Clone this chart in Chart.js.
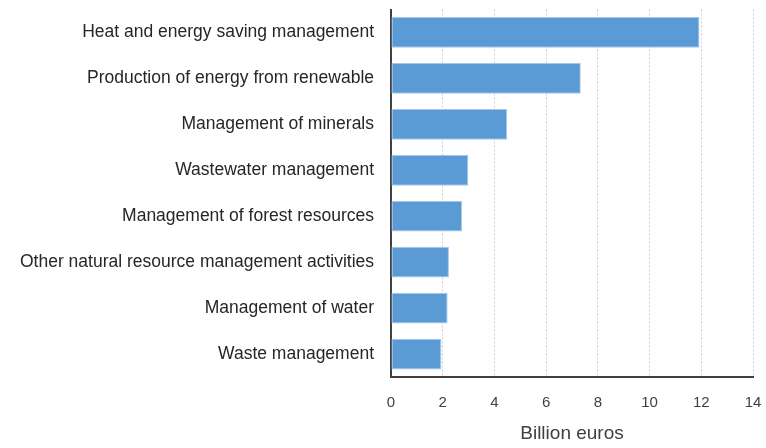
<!DOCTYPE html>
<html>
<head>
<meta charset="utf-8">
<script src="https://cdn.jsdelivr.net/npm/chart.js@4"></script>
<style>
  html, body { margin: 0; padding: 0; background: #fff; }
  #wrap { width: 766px; height: 448px; }
</style>
</head>
<body>
<div id="wrap"><canvas id="envChart" width="766" height="448"></canvas></div>
<script>
// 범주와 값 (그림에서 읽은 값, 단위: 십억 유로)
const categories = [
    'Heat and energy saving management',
    'Production of energy from renewable',
    'Management of minerals',
    'Wastewater management',
    'Management of forest resources',
    'Other natural resource management activities',
    'Management of water',
    'Waste management'
];
const values = [11.93, 7.34, 4.49, 2.99, 2.75, 2.24, 2.19, 1.95];
const xTicks = [0, 2, 4, 6, 8, 10, 12, 14];

const fontFamily = '"Liberation Sans", Arial, sans-serif';

const ctx = document.getElementById('envChart').getContext('2d');
new Chart(ctx, {
    type: 'bar',
    data: {
        labels: categories,
        datasets: [{
            data: values,
            backgroundColor: '#5b9bd5',
            borderColor: '#a7c7ea',
            borderWidth: 1,
            borderSkipped: false,
            barPercentage: 0.67,
            categoryPercentage: 1
        }]
    },
    options: {
        indexAxis: 'y',
        responsive: false,
        animation: false,
        layout: {
            padding: { top: 0, right: 0, left: 0, bottom: 0 }
        },
        plugins: {
            legend: { display: false },
            tooltip: { enabled: false }
        },
        scales: {
            x: {
                min: 0,
                max: 14,
                afterBuildTicks: function(scale) {
                    scale.ticks = xTicks.map(v => ({ value: v }));
                },
                afterFit: function(scale) {
                    scale.height = 71;
                    scale.paddingRight = 13;
                },
                grid: {
                    color: '#d0d0d0',
                    lineWidth: 1,
                    drawTicks: true,
                    tickLength: 17,
                    tickColor: 'rgba(0,0,0,0)'
                },
                border: {
                    display: true,
                    color: '#404040',
                    width: 2,
                    dash: [2, 2]
                },
                ticks: {
                    padding: 0,
                    color: '#404040',
                    font: { family: fontFamily, size: 15 }
                },
                title: {
                    display: true,
                    text: 'Billion euros',
                    color: '#404040',
                    padding: { top: 10, bottom: 3 },
                    font: { family: fontFamily, size: 19 }
                }
            },
            y: {
                afterFit: function(scale) {
                    scale.width = 391;
                    scale.paddingTop = 9.5;
                    scale.paddingBottom = 0;
                },
                grid: {
                    display: true,
                    color: 'rgba(0,0,0,0)',
                    drawTicks: true,
                    tickLength: 17,
                    tickColor: 'rgba(0,0,0,0)'
                },
                border: {
                    display: true,
                    color: '#404040',
                    width: 2
                },
                ticks: {
                    padding: 0,
                    color: '#262626',
                    font: { family: fontFamily, size: 17.5 }
                }
            }
        }
    }
});
</script>
</body>
</html>
